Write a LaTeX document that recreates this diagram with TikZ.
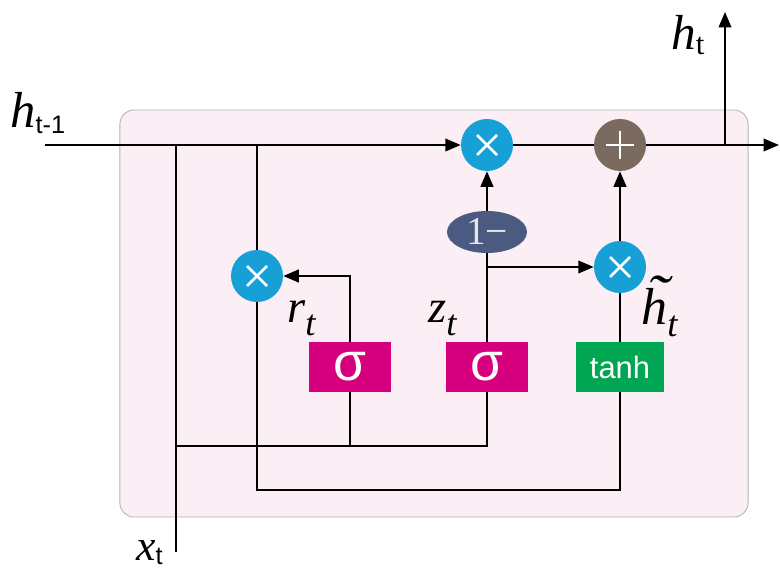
\documentclass[tikz,border=0pt]{standalone}
\usepackage{fontspec}
\setmainfont{Liberation Serif}
\setsansfont{Liberation Sans}
\usepackage{graphicx}
\usepackage{tikz}
\usetikzlibrary{shapes,arrows.meta,calc,positioning}
\definecolor{gatecyan}{RGB}{22,160,214}
\definecolor{addbrown}{RGB}{122,106,96}
\definecolor{sigmag}{RGB}{214,0,127}
\definecolor{tanhgreen}{RGB}{0,166,81}
\definecolor{onemblue}{RGB}{74,90,128}
\definecolor{cellpink}{RGB}{252,238,245}
\definecolor{cellgray}{RGB}{178,178,178}
\tikzstyle{wire} = [line width=1.3pt]
\tikzstyle{arrow} = [-{Triangle[length=11pt,width=9pt]}, line width=1.3pt]
\tikzstyle{lbl} = [inner sep=0pt, anchor=base west]
\tikzstyle{gatebox} = [fill=sigmag, text=white, minimum width=2.05cm, minimum height=1.25cm, inner sep=0pt, font=\sffamily\fontsize{38}{38}\selectfont]
\tikzstyle{mult} = [circle, fill=gatecyan, minimum size=1.3cm, inner sep=0pt,
    path picture={\draw[white, line width=1.8pt] (path picture bounding box.center) ++(-10,-10) -- ++(20,20) ++(0,-20) -- ++(-20,20);}]
\tikzstyle{add} = [circle, fill=addbrown, minimum size=1.3cm, inner sep=0pt,
    path picture={\draw[white, line width=1.8pt] (path picture bounding box.center) ++(-14,0) -- ++(28,0) ++(-14,-14) -- ++(0,28);}]

\begin{document}
\begin{tikzpicture}[x=0.025cm, y=-0.025cm]
    \useasboundingbox (0,0) rectangle (780,569);

    % Cell
    \node[fill=cellpink, draw=cellgray, line width=0.6pt, rounded corners=10pt, minimum width=15.7cm, minimum height=10.175cm] (cell) at (434,313.5) {};

    % Gates
    \node[mult] (m1) at (487,145) {};
    \node[add] (plus) at (620,145) {};
    \node[mult] (m2) at (257,276) {};
    \node[mult] (m3) at (620,267) {};
    \node[ellipse, fill=onemblue, text=white!85!onemblue, minimum width=2cm, minimum height=1.05cm, inner sep=0pt, font=\fontsize{28}{28}\selectfont] (onem) at (487,232) {1−};

    % Activations
    \node[gatebox] (rsig) at (350,367) {σ};
    \node[gatebox] (zsig) at (487,367) {σ};
    \node[gatebox, fill=tanhgreen, minimum width=2.2cm, font=\sffamily\fontsize{22}{22}\selectfont] (tanhbox) at (620,367) {tanh};

    % Free ends and junctions
    \coordinate (in) at (45,145);
    \coordinate (out) at (779,145);
    \coordinate (split) at (725,145);
    \coordinate (htop) at (725,12);
    \coordinate (xin) at (176,552);
    \coordinate (xj) at (176,145);
    \coordinate (hj) at (257,145);
    \coordinate (busa) at (176,446);
    \coordinate (busb) at (257,490);
    \coordinate (zj) at (487,267);

    % Hidden state path
    \draw[arrow] (in) -- (m1);
    \draw[wire] (m1) -- (plus);
    \draw[arrow] (plus) -- (out);
    \draw[arrow] (split) -- (htop);

    % Input and reset path
    \draw[wire] (xin) -- (xj);
    \draw[wire] (busa) -| (zsig.south);
    \draw[wire] (rsig.south) -- (rsig.south |- busa);
    \draw[arrow] (rsig.north) |- (m2);
    \draw[wire] (hj) -- (m2);
    \draw[wire] (m2) -- (busb) -| (tanhbox.south);

    % Update path
    \draw[wire] (zsig.north) -- (onem);
    \draw[arrow] (onem) -- (m1);
    \draw[arrow] (zj) -- (m3);
    \draw[wire] (tanhbox.north) -- (m3);
    \draw[arrow] (m3) -- (plus);

    % Labels
    \node[lbl] (hprev) at (10,128) {\fontsize{36}{36}\selectfont\textit{h}\raisebox{-4pt}{\sffamily\fontsize{18}{18}\selectfont t-1}};
    \node[lbl] (hnext) at (671,50) {\fontsize{35}{35}\selectfont\textit{h}\raisebox{-3pt}{\fontsize{22}{22}\selectfont t}};
    \node[lbl] (xlbl) at (136,560) {\fontsize{31}{31}\selectfont\textit{x}\raisebox{-3pt}{\sffamily\fontsize{18}{18}\selectfont t}};
    \node[lbl] (rlbl) at (287,323) {\fontsize{33}{33}\selectfont\textit{r}\raisebox{-9pt}{\fontsize{26}{26}\selectfont\textit{t}}};
    \node[lbl] (zlbl) at (428,323) {\fontsize{33}{33}\selectfont\textit{z}\raisebox{-9pt}{\fontsize{26}{26}\selectfont\textit{t}}};
    \node[lbl] (hcand) at (641,325) {\fontsize{37}{37}\selectfont\textit{h}\llap{\raisebox{0.2em}{\scalebox{1.3}[1.1]{\textit{˜}}}\hspace{-0.12em}}\raisebox{-8pt}{\fontsize{26}{26}\selectfont\textit{t}}};
\end{tikzpicture}
\end{document}
